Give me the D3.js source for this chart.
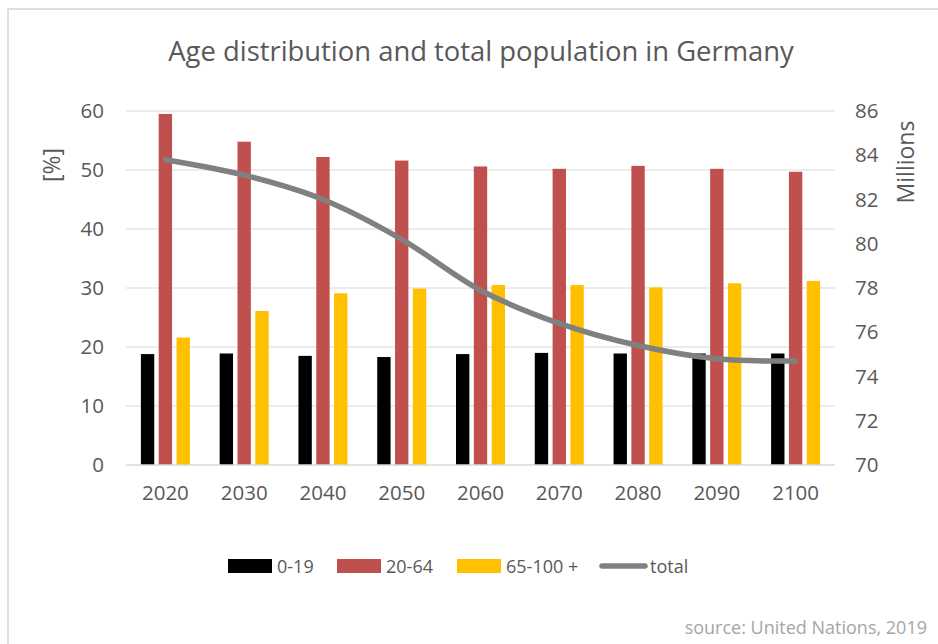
<!DOCTYPE html>
<html>
<head>
<meta charset="utf-8">
<script src="https://cdn.jsdelivr.net/npm/d3@7"></script>
<style>
  html, body { margin: 0; padding: 0; background: #fff; }
  svg { display: block; font-family: "Open Sans", sans-serif; }
</style>
</head>
<body>
<svg id="chart" width="938" height="644"></svg>
<script>
const years = ["2020", "2030", "2040", "2050", "2060", "2070", "2080", "2090", "2100"];
const age0_19 = [18.8, 18.9, 18.5, 18.3, 18.8, 19.0, 18.9, 18.9, 18.9];
const age20_64 = [59.5, 54.8, 52.2, 51.6, 50.6, 50.2, 50.7, 50.2, 49.7];
const age65plus = [21.6, 26.1, 29.1, 29.9, 30.5, 30.5, 30.1, 30.8, 31.2];
const totalMillions = [83.8, 83.1, 82.0, 80.2, 77.9, 76.4, 75.4, 74.8, 74.7];
const seriesNames = ["0-19", "20-64", "65-100 +"];
const seriesColors = ["#000000", "#c0504d", "#ffc000"];
const lineName = "total";
const lineColor = "#808080";
const leftTicks = [0, 10, 20, 30, 40, 50, 60];
const rightTicks = [70, 72, 74, 76, 78, 80, 82, 84, 86];
const titleText = "Age distribution and total population in Germany";
const sourceText = "source: United Nations, 2019";

const svg = d3.select("#chart");
const textColor = "#595959";
const gridColor = "#d9d9d9";

// chart frame
svg.append("rect").attr("x", 8).attr("y", 9).attr("width", 940).attr("height", 650)
  .attr("fill", "#fff").attr("stroke", "#d4d4d4").attr("stroke-width", 1.5);

const plot = { left: 126, right: 835, top: 111, bottom: 465 };

const x = d3.scaleBand().domain(years).range([plot.left, plot.right]).padding(0);
const xs = d3.scaleBand().domain(seriesNames).range([-24.5, 24.5]).paddingInner(0.25).paddingOuter(0);
const yL = d3.scaleLinear().domain([0, 60]).range([plot.bottom, plot.top]);
const yR = d3.scaleLinear().domain([70, 86]).range([plot.bottom, plot.top]);

// gridlines
svg.append("g").selectAll("line").data(leftTicks.filter(t => t > 0)).join("line")
  .attr("x1", plot.left).attr("x2", plot.right)
  .attr("y1", d => yL(d)).attr("y2", d => yL(d))
  .attr("stroke", gridColor).attr("stroke-width", 1);

// left axis
const gL = svg.append("g").attr("transform", `translate(${plot.left - 22},0)`)
  .call(d3.axisLeft(yL).tickValues(leftTicks).tickSize(0).tickPadding(0));
gL.select(".domain").remove();
gL.selectAll("text").attr("fill", textColor).style("font-size", "20.5px").style("font-family", "Open Sans");

// right axis
const gR = svg.append("g").attr("transform", `translate(${plot.right + 20},0)`)
  .call(d3.axisRight(yR).tickValues(rightTicks).tickSize(0).tickPadding(0));
gR.select(".domain").remove();
gR.selectAll("text").attr("fill", textColor).style("font-size", "20.5px").style("font-family", "Open Sans");

// bars
const seriesData = [age0_19, age20_64, age65plus];
seriesData.forEach((vals, si) => {
  svg.append("g").selectAll("rect").data(vals).join("rect")
    .attr("x", (d, i) => x(years[i]) + x.bandwidth() / 2 + xs(seriesNames[si]))
    .attr("width", xs.bandwidth())
    .attr("y", d => yL(d))
    .attr("height", d => yL(0) - yL(d))
    .attr("fill", seriesColors[si]);
});

// baseline axis
svg.append("line").attr("x1", plot.left).attr("x2", plot.right)
  .attr("y1", yL(0)).attr("y2", yL(0)).attr("stroke", gridColor).attr("stroke-width", 1.5);

// x axis labels
const gX = svg.append("g").attr("transform", `translate(0,${plot.bottom + 20})`)
  .call(d3.axisBottom(x).tickSize(0).tickPadding(0));
gX.select(".domain").remove();
gX.selectAll("text").attr("fill", textColor).attr("dy", "0.71em")
  .style("font-size", "20.5px").style("font-family", "Open Sans");

// total line
const line = d3.line()
  .x((d, i) => x(years[i]) + x.bandwidth() / 2)
  .y(d => yR(d))
  .curve(d3.curveCatmullRom.alpha(0.5));
svg.append("path").datum(totalMillions).attr("d", line)
  .attr("fill", "none").attr("stroke", lineColor).attr("stroke-width", 5.5)
  .attr("stroke-linecap", "round").attr("stroke-linejoin", "round");

// title
svg.append("text").attr("x", 481).attr("y", 61).attr("text-anchor", "middle")
  .attr("fill", textColor).style("font-size", "27.4px").text(titleText);

// axis titles
svg.append("text").attr("transform", "translate(51,165) rotate(-90)")
  .attr("text-anchor", "middle").attr("dominant-baseline", "central")
  .attr("fill", textColor).style("font-size", "23px").text("[%]");
svg.append("text").attr("transform", "translate(905,162) rotate(-90)")
  .attr("text-anchor", "middle").attr("dominant-baseline", "central")
  .attr("fill", textColor).style("font-size", "23px").text("Millions");

// legend
const legendItems = [
  { name: seriesNames[0], color: seriesColors[0], type: "rect", x: 228 },
  { name: seriesNames[1], color: seriesColors[1], type: "rect", x: 337 },
  { name: seriesNames[2], color: seriesColors[2], type: "rect", x: 457 },
  { name: lineName, color: lineColor, type: "line", x: 600 }
];
const legY = 566;
const lg = svg.append("g");
legendItems.forEach(it => {
  if (it.type === "rect") {
    lg.append("rect").attr("x", it.x).attr("y", legY - 7).attr("width", 44).attr("height", 14).attr("fill", it.color);
  } else {
    lg.append("line").attr("x1", it.x + 2).attr("x2", it.x + 45).attr("y1", legY).attr("y2", legY)
      .attr("stroke", it.color).attr("stroke-width", 5.5).attr("stroke-linecap", "round");
  }
  lg.append("text").attr("x", it.x + (it.type === "rect" ? 49 : 50)).attr("y", legY)
    .attr("dominant-baseline", "central").attr("fill", textColor)
    .style("font-size", "18px").text(it.name);
});

// source
svg.append("text").attr("x", 927).attr("y", 634).attr("text-anchor", "end")
  .attr("fill", "#a6a6a6").style("font-size", "18px").text(sourceText);
</script>
</body>
</html>
